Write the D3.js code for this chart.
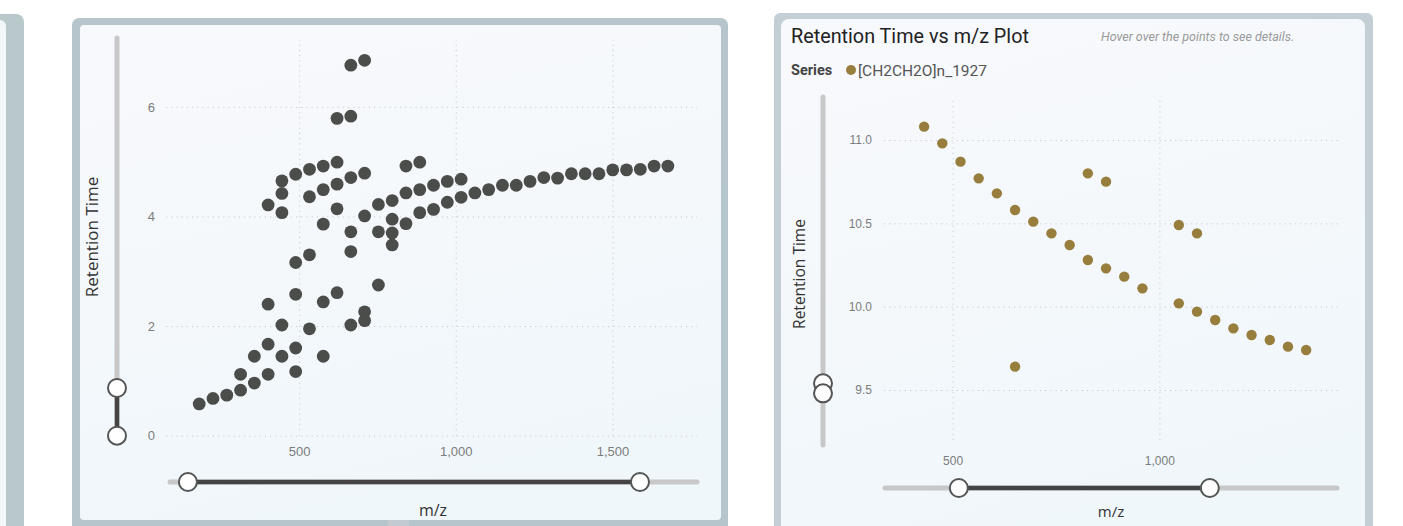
<!DOCTYPE html>
<html>
<head>
<meta charset="utf-8">
<script src="https://cdn.jsdelivr.net/npm/d3@7"></script>
<style>
  body { margin: 0; background: #fff; }
  svg { display: block; font-family: "Segoe UI", "Open Sans", "Noto Sans", sans-serif; }
</style>
</head>
<body>
<div class="chart"></div>
<script>
// left panel: all series, m/z vs retention time
const leftMz = [181, 225, 269, 313, 313, 357, 357, 401, 401, 401, 401,
  445, 445, 445, 445, 445, 489, 489, 489, 489, 489, 533, 533, 533, 533,
  577, 577, 577, 577, 577, 621, 621, 621, 621, 621,
  665, 665, 665, 665, 665, 665, 709, 709, 709, 709, 709,
  753, 753, 753, 797, 797, 797, 797, 841, 841, 841, 885, 885, 885,
  929, 929, 973, 973, 1017, 1017, 1061, 1105, 1149, 1193, 1237, 1281,
  1325, 1369, 1413, 1457, 1501, 1545, 1589, 1633, 1677];
const leftRt = [0.58, 0.68, 0.74, 0.83, 1.12, 0.96, 1.45, 1.12, 1.67, 2.40, 4.21,
  1.45, 2.02, 4.07, 4.42, 4.65, 1.17, 1.60, 2.58, 3.16, 4.77, 1.95, 3.30, 4.36, 4.86,
  1.45, 2.44, 3.86, 4.49, 4.92, 2.61, 4.14, 4.59, 4.99, 5.79,
  2.02, 3.36, 3.72, 4.71, 5.83, 6.76, 2.10, 2.26, 4.01, 4.79, 6.85,
  2.75, 3.72, 4.22, 3.48, 3.70, 3.95, 4.29, 3.87, 4.43, 4.92, 4.07, 4.49, 4.99,
  4.13, 4.57, 4.26, 4.64, 4.35, 4.68, 4.43, 4.49, 4.57, 4.57, 4.64, 4.71,
  4.70, 4.78, 4.78, 4.78, 4.85, 4.85, 4.86, 4.92, 4.92];
const leftXTicks = [500, 1000, 1500];
const leftYTicks = [0, 2, 4, 6];
const leftXRange = [145, 1588];
const leftYRange = [0, 0.87];

// right panel: one series
const seriesName = "[CH2CH2O]n_1927";
const rightMz = [431, 475, 519, 563, 607, 651, 651, 695, 739, 783, 827, 827,
  871, 871, 915, 959, 1047, 1047, 1091, 1091, 1135, 1179, 1223, 1267, 1311, 1355];
const rightRt = [11.08, 10.98, 10.87, 10.77, 10.68, 10.58, 9.64, 10.51, 10.44, 10.37, 10.28, 10.80,
  10.23, 10.75, 10.18, 10.11, 10.02, 10.49, 9.97, 10.44, 9.92, 9.87, 9.83, 9.80, 9.76, 9.74];
const rightXTicks = [500, 1000];
const rightYTicks = [9.5, 10.0, 10.5, 11.0];
const rightXRange = [515, 1122];
const rightYRange = [9.48, 9.54];

const svg = d3.select(".chart").append("svg")
  .attr("width", 1403)
  .attr("height", 526);

const defs = svg.append("defs");
const grad = defs.append("linearGradient")
  .attr("id", "cardBg")
  .attr("x1", 0).attr("y1", 0).attr("x2", 0.3).attr("y2", 1);
grad.append("stop").attr("offset", "0%").attr("stop-color", "#f8f9fc");
grad.append("stop").attr("offset", "100%").attr("stop-color", "#f0f7fb");

// cut-off card on the far left
svg.append("rect")
  .attr("x", -20).attr("y", 14).attr("width", 44).attr("height", 530).attr("rx", 8)
  .attr("fill", "#b8c8cb");
svg.append("rect")
  .attr("x", -20).attr("y", 20).attr("width", 26).attr("height", 530).attr("rx", 6)
  .attr("fill", "#f3f7f9");

// cards
svg.append("rect")
  .attr("x", 72).attr("y", 18).attr("width", 656).attr("height", 530).attr("rx", 7)
  .attr("fill", "#b6c4cb");
svg.append("rect")
  .attr("x", 80).attr("y", 25).attr("width", 641).attr("height", 495).attr("rx", 4)
  .attr("fill", "url(#cardBg)");
svg.append("rect")
  .attr("x", 388).attr("y", 520).attr("width", 21).attr("height", 6)
  .attr("fill", "#c3cbd0");

svg.append("rect")
  .attr("x", 774).attr("y", 13).attr("width", 599).attr("height", 530).attr("rx", 6)
  .attr("fill", "#c4cfd5");
svg.append("rect")
  .attr("x", 781).attr("y", 19).attr("width", 584).attr("height", 530).attr("rx", 8)
  .attr("fill", "url(#cardBg)");

function gridStyle(g) {
  g.select(".domain").remove();
  g.selectAll(".tick line")
    .attr("stroke", "#c9cbcf")
    .attr("stroke-width", 1)
    .attr("stroke-dasharray", "1.2,4");
  g.selectAll(".tick text").attr("fill", "#7c7c7c");
}

function slider(g, x1, y1, x2, y2, h1, h2) {
  g.append("line")
    .attr("x1", x1).attr("y1", y1).attr("x2", x2).attr("y2", y2)
    .attr("stroke", "#c8c8c8").attr("stroke-width", 5).attr("stroke-linecap", "round");
  g.append("line")
    .attr("x1", h1[0]).attr("y1", h1[1]).attr("x2", h2[0]).attr("y2", h2[1])
    .attr("stroke", "#444").attr("stroke-width", 4.5);
  g.selectAll(".handle")
    .data([h1, h2])
    .enter()
    .append("circle")
    .attr("class", "handle")
    .attr("cx", d => d[0])
    .attr("cy", d => d[1])
    .attr("r", 9)
    .attr("fill", "#fff")
    .attr("stroke", "#555")
    .attr("stroke-width", 2);
}

// ---------- left chart ----------
const lx = d3.scaleLinear().domain([75, 1770]).range([166, 697]);
const ly = d3.scaleLinear().domain([0, 7.22]).range([435.7, 40]);

const left = svg.append("g");

left.append("g")
  .attr("transform", "translate(0,435.7)")
  .style("font-size", "13px")
  .call(d3.axisBottom(lx).tickValues(leftXTicks).tickFormat(d3.format(",")).tickSize(-(435.7 - 40)).tickPadding(11))
  .call(gridStyle);

left.append("g")
  .attr("transform", "translate(166,0)")
  .style("font-size", "13px")
  .call(d3.axisLeft(ly).tickValues(leftYTicks).tickSize(-(697 - 166)).tickPadding(11))
  .call(gridStyle);

left.selectAll(".dot")
  .data(leftMz.map((d, i) => ({mz: d, rt: leftRt[i]})))
  .enter()
  .append("circle")
  .attr("class", "dot")
  .attr("cx", d => lx(d.mz))
  .attr("cy", d => ly(d.rt))
  .attr("r", 6.4)
  .attr("fill", "#4b4d4a");

slider(left.append("g"), 117, 38, 117, 436,
  [117, ly(leftYRange[1])], [117, ly(leftYRange[0])]);
slider(left.append("g"), 170, 482, 697, 482,
  [lx(leftXRange[0]), 482], [lx(leftXRange[1]), 482]);

left.append("text")
  .attr("transform", "translate(98,237) rotate(-90)")
  .attr("text-anchor", "middle")
  .style("font-size", "17px")
  .attr("fill", "#333")
  .text("Retention Time");

left.append("text")
  .attr("x", 433).attr("y", 516)
  .attr("text-anchor", "middle")
  .style("font-size", "16px")
  .attr("fill", "#333")
  .text("m/z");

// ---------- right chart ----------
const rx = d3.scaleLinear().domain([334, 1432]).range([884, 1338]);
const ry = d3.scaleLinear().domain([9.2, 11.24]).range([440, 100]);

const right = svg.append("g");

right.append("text")
  .attr("x", 791).attr("y", 43)
  .style("font-family", "Roboto, sans-serif")
  .style("font-size", "19.8px")
  .attr("fill", "#222")
  .text("Retention Time vs m/z Plot");

right.append("text")
  .attr("x", 1101).attr("y", 41)
  .style("font-family", "Roboto, sans-serif")
  .style("font-size", "12.5px")
  .style("font-style", "italic")
  .attr("fill", "#9a9a9a")
  .text("Hover over the points to see details.");

right.append("text")
  .attr("x", 791).attr("y", 75)
  .style("font-family", "Roboto, sans-serif")
  .style("font-size", "14.5px")
  .style("font-weight", "bold")
  .attr("fill", "#444")
  .text("Series");
right.append("circle")
  .attr("cx", 851).attr("cy", 70).attr("r", 5)
  .attr("fill", "#977e3d");
right.append("text")
  .attr("x", 858).attr("y", 75.5)
  .style("font-family", "Roboto, sans-serif")
  .style("font-size", "15.5px")
  .attr("fill", "#555")
  .text(seriesName);

right.append("g")
  .attr("transform", "translate(0,440)")
  .style("font-size", "12px")
  .call(d3.axisBottom(rx).tickValues(rightXTicks).tickFormat(d3.format(",")).tickSize(-(440 - 100)).tickPadding(16))
  .call(gridStyle);

right.append("g")
  .attr("transform", "translate(884,0)")
  .style("font-size", "12px")
  .call(d3.axisLeft(ry).tickValues(rightYTicks).tickFormat(d3.format(".1f")).tickSize(-(1338 - 884)).tickPadding(12))
  .call(gridStyle);

right.selectAll(".dot")
  .data(rightMz.map((d, i) => ({mz: d, rt: rightRt[i]})))
  .enter()
  .append("circle")
  .attr("class", "dot")
  .attr("cx", d => rx(d.mz))
  .attr("cy", d => ry(d.rt))
  .attr("r", 5.2)
  .attr("fill", "#977e3d");

slider(right.append("g"), 823, 97, 823, 445,
  [823, ry(rightYRange[1])], [823, ry(rightYRange[0])]);
slider(right.append("g"), 885, 488, 1337, 488,
  [rx(rightXRange[0]), 488], [rx(rightXRange[1]), 488]);

right.append("text")
  .attr("transform", "translate(805,274) rotate(-90)")
  .attr("text-anchor", "middle")
  .style("font-size", "15.5px")
  .attr("fill", "#333")
  .text("Retention Time");

right.append("text")
  .attr("x", 1111).attr("y", 517)
  .attr("text-anchor", "middle")
  .style("font-size", "15px")
  .attr("fill", "#333")
  .text("m/z");
</script>
</body>
</html>
